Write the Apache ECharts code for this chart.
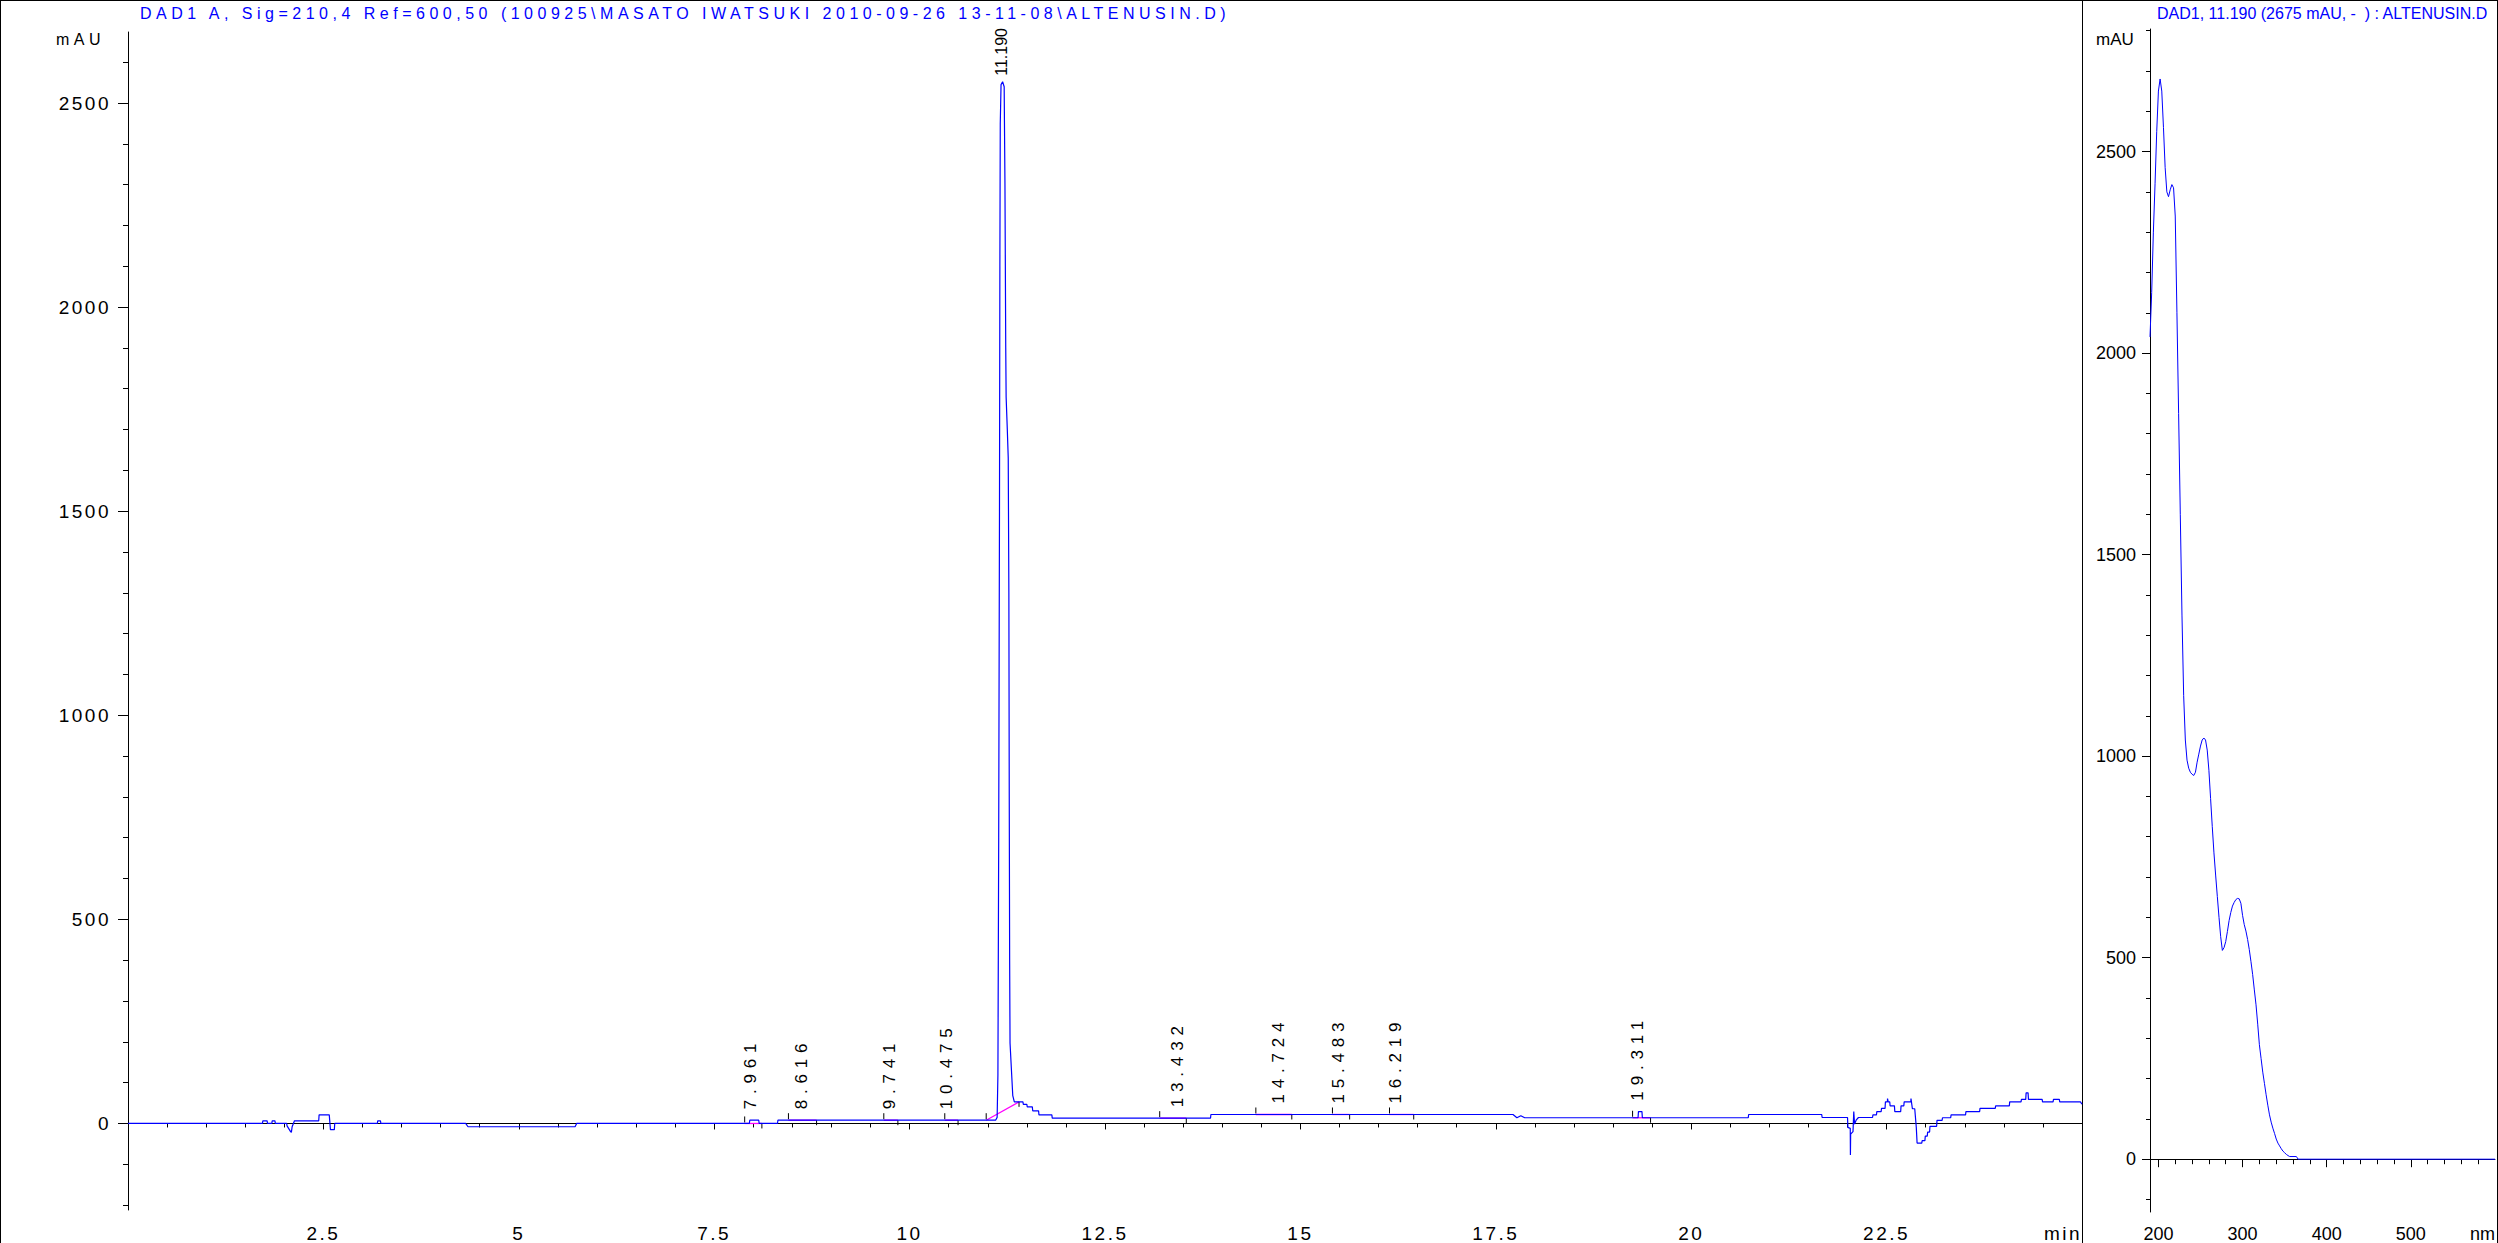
<!DOCTYPE html>
<html>
<head>
<meta charset="utf-8">
<script src="https://cdn.jsdelivr.net/npm/echarts@6.0.0/dist/echarts.min.js"></script>
<style>
  html, body { margin: 0; padding: 0; background: #fff; }
  #chart { width: 2498px; height: 1243px; }
  svg text { white-space: pre; }
  text[style*="x-sp-title"] { letter-spacing: 4.5px; }
  text[style*="x-sp-label"] { letter-spacing: 5.8px; }
  text[style*="x-sp-axis"] { letter-spacing: 2.5px; }
</style>
</head>
<body>
<div id="chart"></div>
<script>
// ---------- data ----------
const chromTitle = 'DAD1 A, Sig=210,4 Ref=600,50 (100925\\MASATO IWATSUKI 2010-09-26 13-11-08\\ALTENUSIN.D)';
const specTitle = 'DAD1, 11.190 (2675 mAU, -  ) : ALTENUSIN.D';

// chromatogram trace: [time (min), signal (mAU)]
const chromatogram = [
  [0, 0], [1.72, 0], [1.725, 6.5], [1.78, 6.5], [1.785, 0], [1.84, 0], [1.845, 6.5], [1.88, 6.5], [1.885, 0],
  [2.03, 0], [2.035, -6], [2.08, -20], [2.09, -22], [2.10, -8], [2.13, 6.5], [2.44, 6.5], [2.445, 21], [2.575, 21],
  [2.59, -15], [2.64, -15], [2.645, 0],
  [3.19, 0], [3.195, 6.5], [3.23, 6.5], [3.235, 0],
  [4.32, 0], [4.35, -8], [5.72, -8], [5.74, 0],
  [7.95, 0], [7.955, 8], [8.07, 8], [8.075, 0], [8.31, 0], [8.315, 8],
  [11.10, 8], [11.12, 15], [11.13, 120], [11.14, 700], [11.15, 1500], [11.155, 2100], [11.16, 2450], [11.17, 2545],
  [11.19, 2552], [11.21, 2540], [11.22, 2300], [11.23, 1900], [11.235, 1780], [11.25, 1700], [11.262, 1630],
  [11.27, 1300], [11.275, 800], [11.28, 400], [11.285, 197], [11.32, 68], [11.34, 53],
  [11.45, 53], [11.455, 47], [11.50, 47], [11.505, 40.6], [11.57, 40.6], [11.575, 31], [11.65, 31], [11.655, 21],
  [11.82, 21], [11.825, 13],
  [13.85, 13], [13.855, 22], [17.72, 22], [17.77, 14], [17.82, 19], [17.87, 14],
  [19.32, 14], [19.325, 29], [19.37, 29], [19.375, 14],
  [20.73, 14], [20.735, 22], [21.67, 22], [21.675, 14.6],
  [22.0, 14.6], [22.005, -9.7], [22.035, -12], [22.037, -77], [22.04, -26], [22.07, -20], [22.08, 29], [22.09, -1.6],
  [22.11, 8], [22.14, 14.6], [22.32, 14.6], [22.325, 21], [22.37, 21], [22.375, 29], [22.43, 29], [22.435, 37],
  [22.48, 37], [22.485, 53], [22.51, 53], [22.512, 61], [22.52, 53], [22.54, 53], [22.545, 43], [22.60, 43],
  [22.605, 29], [22.68, 29], [22.685, 43], [22.72, 43], [22.725, 53], [22.81, 53], [22.812, 61], [22.83, 36],
  [22.86, 36], [22.88, -10], [22.89, -48], [22.95, -48], [22.955, -42], [22.99, -42], [22.995, -31], [23.02, -31],
  [23.025, -21], [23.05, -21], [23.055, -7], [23.14, -7], [23.145, 7.5], [23.21, 7.5], [23.215, 14], [23.32, 14],
  [23.325, 21], [23.51, 21], [23.515, 29], [23.69, 29], [23.695, 37], [23.89, 37], [23.895, 43], [24.07, 43],
  [24.075, 53], [24.22, 53], [24.225, 59], [24.28, 59], [24.285, 75], [24.31, 75], [24.315, 59], [24.49, 59],
  [24.495, 53], [24.63, 53], [24.635, 59], [24.71, 59], [24.715, 53], [24.98, 53], [25.0, 47]
];

// integrated peaks
const peakLabels = ['7.961', '8.616', '9.741', '10.475', '11.190', '13.432', '14.724', '15.483', '16.219', '19.311'];
const peakRT     = [7.961, 8.616, 9.741, 10.475, 11.190, 13.432, 14.724, 15.483, 16.219, 19.311];
const peakApex   = [8, 8, 8, 8, 2552, 13, 22, 22, 22, 29];
const peakStart  = [7.89, 8.45, 9.67, 10.45, 10.98, 13.20, 14.43, 15.41, 16.14, 19.25];
const peakEnd    = [8.11, 8.81, 9.85, 10.62, 11.40, 13.54, 14.89, 15.63, 16.45, 19.48];
const baseStart  = [0, 8, 8, 8, 8, 13, 22, 22, 22, 14];
const baseEnd    = [0, 8, 8, 8, 53, 13, 22, 22, 22, 14];

// UV spectrum at 11.190 min: [wavelength (nm), absorbance (mAU)]
const spectrum = [
  [190, 2040], [192, 2150], [194, 2300], [196, 2420], [198, 2550], [200, 2650], [202, 2680], [204, 2650],
  [206, 2560], [208, 2460], [210, 2400], [212, 2388], [214, 2405], [216, 2418], [218, 2410], [220, 2340],
  [222, 2100], [224, 1850], [226, 1600], [228, 1350], [230, 1150], [232, 1040], [234, 990], [236, 970],
  [238, 960], [240, 955], [242, 952], [244, 960], [246, 985], [248, 1005], [250, 1025], [252, 1040],
  [254, 1045], [256, 1040], [258, 1015], [260, 965], [262, 895], [264, 825], [266, 760], [268, 705],
  [270, 652], [272, 600], [274, 552], [276, 518], [278, 525], [280, 540], [282, 565], [284, 592],
  [286, 612], [288, 628], [290, 637], [292, 644], [294, 647], [296, 646], [298, 635], [300, 605],
  [302, 582], [304, 566], [306, 545], [308, 520], [310, 490], [312, 458], [314, 420], [316, 383],
  [318, 335], [320, 284], [322, 250], [324, 216], [326, 188], [328, 160], [330, 134], [332, 110],
  [334, 92], [336, 77], [338, 64], [340, 50], [342, 40], [344, 33], [346, 26], [348, 20], [350, 16],
  [352, 12], [354, 9], [356, 6.6], [364, 6.6], [366, 0], [600, 0]
];

// axis ranges and ticks
const chromXRange = [0, 25];
const chromYRange = [-212, 2674];
const specXRange = [190, 600];
const specYRange = [-131, 2804];
const chromXLabels = [2.5, 5, 7.5, 10, 12.5, 15, 17.5, 20, 22.5, 25];
const chromXMajor = [2.5, 5, 7.5, 10, 12.5, 15, 17.5, 20, 22.5];
const chromXMinor = [0.5, 1, 1.5, 2, 3, 3.5, 4, 4.5, 5.5, 6, 6.5, 7, 8, 8.5, 9, 9.5, 10.5, 11, 11.5, 12, 13, 13.5, 14, 14.5,
  15.5, 16, 16.5, 17, 18, 18.5, 19, 19.5, 20.5, 21, 21.5, 22, 23, 23.5, 24, 24.5];
const chromYLabels = [0, 500, 1000, 1500, 2000, 2500];
const chromYMinor = [-200, -100, 100, 200, 300, 400, 600, 700, 800, 900, 1100, 1200, 1300, 1400, 1600, 1700, 1800, 1900,
  2100, 2200, 2300, 2400, 2600];
const specXLabels = [200, 300, 400, 500, 600];
const specXMajor = [200, 300, 400, 500];
const specXMinor = [220, 240, 260, 280, 320, 340, 360, 380, 420, 440, 460, 480, 520, 540, 560, 580];
const specYLabels = [0, 500, 1000, 1500, 2000, 2500];
const specYMinor = [-100, 100, 200, 300, 400, 600, 700, 800, 900, 1100, 1200, 1300, 1400, 1600, 1700, 1800, 1900,
  2100, 2200, 2300, 2400, 2600, 2700, 2800];

// ---------- chart ----------
const FONT = 'Liberation Sans';
const chart = echarts.init(document.getElementById('chart'), null, { renderer: 'svg' });

function axisBase(gridIndex, range) {
  return {
    gridIndex: gridIndex, type: 'value', min: range[0], max: range[1],
    splitLine: { show: false },
    axisLine: { show: true, lineStyle: { color: '#000', width: 1 } }
  };
}
function minorAxis(gridIndex, range, values, len) {
  const a = axisBase(gridIndex, range);
  a.axisLine = { show: false };
  a.axisLabel = { show: false };
  a.axisTick = { show: true, customValues: values, length: len, lineStyle: { color: '#000', width: 1 } };
  return a;
}
const plain = v => String(v);

const xAxes = [
  Object.assign(axisBase(0, chromXRange), {
    position: 'bottom',
    axisTick: { show: true, customValues: chromXMajor, length: 6, lineStyle: { color: '#000', width: 1 } },
    axisLabel: {
      customValues: chromXLabels, margin: 14, color: '#000', fontSize: 19, fontFamily: FONT + ', x-sp-axis',
      alignMaxLabel: 'right',
      formatter: v => (v === 25 ? 'min' : String(v))
    }
  }),
  Object.assign(minorAxis(0, chromXRange, chromXMinor, 4), { position: 'bottom' }),
  Object.assign(axisBase(1, specXRange), {
    position: 'bottom',
    axisTick: { show: true, customValues: specXMajor, length: 8, lineStyle: { color: '#000', width: 1 } },
    axisLabel: {
      customValues: specXLabels, margin: 13, color: '#000', fontSize: 18, fontFamily: FONT,
      alignMaxLabel: 'right',
      formatter: v => (v === 600 ? 'nm' : String(v))
    }
  }),
  Object.assign(minorAxis(1, specXRange, specXMinor, 5), { position: 'bottom' })
];

const yAxes = [
  Object.assign(axisBase(0, chromYRange), {
    position: 'left',
    axisTick: { show: true, customValues: chromYLabels, length: 10, lineStyle: { color: '#000', width: 1 } },
    axisLabel: { customValues: chromYLabels, margin: 17, color: '#000', fontSize: 19, fontFamily: FONT + ', x-sp-axis', formatter: plain }
  }),
  Object.assign(minorAxis(0, chromYRange, chromYMinor, 5), { position: 'left' }),
  Object.assign(axisBase(1, specYRange), {
    position: 'left',
    axisTick: { show: true, customValues: specYLabels, length: 8, lineStyle: { color: '#000', width: 1 } },
    axisLabel: { customValues: specYLabels, margin: 14, color: '#000', fontSize: 18, fontFamily: FONT, formatter: plain }
  }),
  Object.assign(minorAxis(1, specYRange, specYMinor, 4), { position: 'left' })
];

const peakData = peakRT.map((rt, i) => [rt, peakApex[i], peakStart[i], peakEnd[i], baseStart[i], baseEnd[i]]);

const option = {
  animation: false,
  backgroundColor: '#fff',
  grid: [
    { left: 128, top: 32, width: 1954, height: 1186 },
    { left: 2150, top: 29, width: 346, height: 1186 }
  ],
  xAxis: xAxes,
  yAxis: yAxes,
  graphic: [
    { type: 'line', silent: true, shape: { x1: 0, y1: 0.5, x2: 2498, y2: 0.5 }, style: { stroke: '#000', lineWidth: 1 } },
    { type: 'line', silent: true, shape: { x1: 0.5, y1: 0, x2: 0.5, y2: 1243 }, style: { stroke: '#000', lineWidth: 1 } },
    { type: 'line', silent: true, shape: { x1: 2082.5, y1: 0, x2: 2082.5, y2: 1243 }, style: { stroke: '#000', lineWidth: 1 } },
    { type: 'line', silent: true, shape: { x1: 2497.5, y1: 0, x2: 2497.5, y2: 1243 }, style: { stroke: '#000', lineWidth: 1 } },
    { type: 'text', silent: true, x: 140, y: 13,
      style: { text: chromTitle, fill: '#0000ff', font: '16px ' + FONT + ', x-sp-title', align: 'left', verticalAlign: 'middle' } },
    { type: 'text', silent: true, x: 2157, y: 13,
      style: { text: specTitle, fill: '#0000ff', font: '16px ' + FONT, align: 'left', verticalAlign: 'middle' } },
    { type: 'text', silent: true, x: 56, y: 39,
      style: { text: 'mAU', fill: '#000', font: '16px ' + FONT + ', x-sp-title', align: 'left', verticalAlign: 'middle' } },
    { type: 'text', silent: true, x: 2096, y: 39,
      style: { text: 'mAU', fill: '#000', font: '17px ' + FONT, align: 'left', verticalAlign: 'middle' } }
  ],
  series: [
    {
      type: 'line', xAxisIndex: 0, yAxisIndex: 0, data: chromatogram,
      showSymbol: false, symbol: 'none', smooth: false, silent: true,
      lineStyle: { color: '#0000ff', width: 1.2 }
    },
    {
      type: 'custom', xAxisIndex: 0, yAxisIndex: 0, data: peakData, clip: false, silent: true,
      renderItem: function (params, api) {
        const i = params.dataIndex;
        const pA = api.coord([api.value(0), api.value(1)]);
        const pS = api.coord([api.value(2), api.value(4)]);
        const pE = api.coord([api.value(3), api.value(5)]);
        // near the top edge there is no room for the spaced label: draw it compact
        const compact = pA[1] < 150;
        const labelFont = compact ? ('16px ' + FONT) : ('17px ' + FONT + ', x-sp-label');
        const labelGap = compact ? 6 : 11;
        return {
          type: 'group',
          children: [
            { type: 'line', shape: { x1: pS[0], y1: pS[1], x2: pE[0], y2: pE[1] },
              style: { stroke: '#ff00ff', lineWidth: 1.3 } },
            { type: 'line', shape: { x1: pS[0], y1: pS[1] - 1, x2: pS[0], y2: pS[1] - 7 },
              style: { stroke: '#000', lineWidth: 1 } },
            { type: 'line', shape: { x1: pE[0], y1: pE[1], x2: pE[0], y2: pE[1] + 5 },
              style: { stroke: '#000', lineWidth: 1 } },
            { type: 'text', x: pA[0] - (compact ? 1 : 0), y: pA[1] - labelGap, rotation: Math.PI / 2,
              style: { text: peakLabels[i], fill: '#000', font: labelFont,
                       align: 'left', verticalAlign: 'middle', textAlign: 'left', textVerticalAlign: 'middle' } }
          ]
        };
      }
    },
    {
      type: 'line', xAxisIndex: 2, yAxisIndex: 2, data: spectrum,
      showSymbol: false, symbol: 'none', smooth: false, silent: true,
      lineStyle: { color: '#0000ff', width: 1 }
    }
  ]
};
chart.setOption(option);
</script>
</body>
</html>
